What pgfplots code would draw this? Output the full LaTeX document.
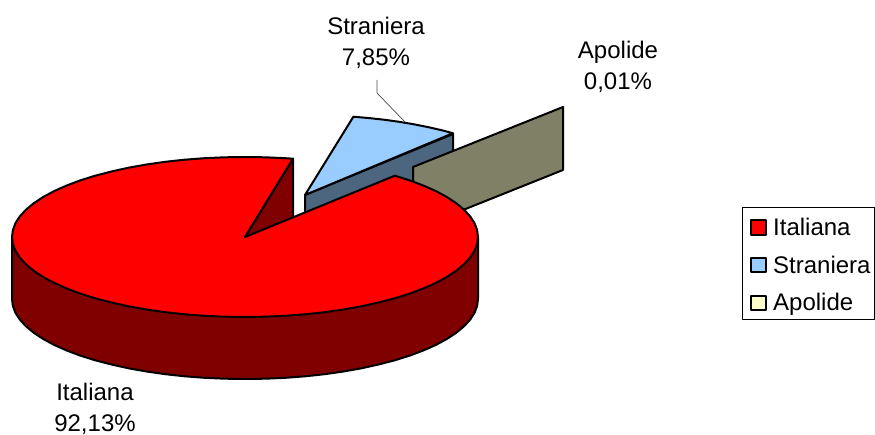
\documentclass[border=0pt]{standalone}
\usepackage{pgfplots}
\pgfplotsset{compat=1.18}
\usepackage{fontspec}
\setmainfont{Liberation Sans}
\definecolor{redtop}{RGB}{255,0,0}
\definecolor{redside}{RGB}{128,0,0}
\definecolor{bluetop}{RGB}{153,204,255}
\definecolor{blueside}{RGB}{77,102,128}
\definecolor{olive}{RGB}{128,128,102}
\definecolor{apolide}{RGB}{255,255,204}
\tikzset{
  lab/.style={font=\fontsize{24}{31}\selectfont, inner sep=0pt},
  lab2/.style={font=\fontsize{24}{31}\selectfont, inner sep=0pt, align=center},
}
\begin{document}
\begin{tikzpicture}
\begin{axis}[
  scale only axis, width=875pt, height=435pt,
  xmin=0, xmax=875, ymin=0, ymax=435, y dir=reverse,
  axis lines=none, clip=false,
  every axis plot/.append style={draw=black, line width=2pt, line join=round, no markers},
]
\path[use as bounding box] (axis cs:0,0) rectangle (axis cs:875,435);
% Straniera: side and top of the exploded slice
\addplot[fill=blueside] coordinates {(305,195) (453,134) (453,196) (305,257)} --cycle;
\addplot[fill=bluetop] coordinates {(305,195) (353.4,116.7) (369.2,118.1) (384.7,119.8) (399.8,121.9) (414.4,124.4) (428.5,127.2) (442,130.3) (453,133.2)} --cycle;
% Apolide: thin slice seen edge on
\addplot[fill=olive] coordinates {(413,167) (563,107) (563,170) (413,230)} --cycle;
% Italiana: inner cut face
\addplot[fill=redside] coordinates {(245,237) (293,158.7) (293,240)} --cycle;
% Italiana: outer wall
\addplot[fill=redside] coordinates {(12,237) (12,299) (12.9,306) (15.5,312.9) (19.9,319.7) (26.1,326.4) (33.8,332.8) (43.2,339) (54.1,344.9) (66.5,350.4) (80.2,355.6) (95.2,360.3) (111.4,364.5) (128.5,368.3) (146.5,371.5) (165.3,374.2) (184.7,376.3) (204.5,377.8) (224.7,378.7) (245,379) (265.3,378.7) (285.5,377.8) (305.3,376.3) (324.7,374.2) (343.5,371.5) (361.5,368.3) (378.6,364.5) (394.8,360.3) (409.8,355.6) (423.5,350.4) (435.9,344.9) (446.8,339) (456.2,332.8) (463.9,326.4) (470.1,319.7) (474.5,312.9) (477.1,306) (478,299) (478,237)} --cycle;
% Italiana: top
\addplot[fill=redtop] coordinates {(245,237) (293,158.7) (285.5,158.2) (265.3,157.3) (245,157) (224.7,157.3) (204.5,158.2) (184.7,159.7) (165.3,161.8) (146.5,164.5) (128.5,167.7) (111.4,171.5) (95.2,175.7) (80.2,180.4) (66.5,185.6) (54.1,191.1) (43.2,197) (33.8,203.2) (26.1,209.6) (19.9,216.3) (15.5,223.1) (12.9,230) (12,237) (12.9,244) (15.5,250.9) (19.9,257.7) (26.1,264.4) (33.8,270.8) (43.2,277) (54.1,282.9) (66.5,288.4) (80.2,293.6) (95.2,298.3) (111.4,302.5) (128.5,306.3) (146.5,309.5) (165.3,312.2) (184.7,314.3) (204.5,315.8) (224.7,316.7) (245,317) (265.3,316.7) (285.5,315.8) (305.3,314.3) (324.7,312.2) (343.5,309.5) (361.5,306.3) (378.6,302.5) (394.8,298.3) (409.8,293.6) (423.5,288.4) (435.9,282.9) (446.8,277) (456.2,270.8) (463.9,264.4) (470.1,257.7) (474.5,250.9) (477.1,244) (478,237) (477.1,230) (474.5,223.1) (470.1,216.3) (463.9,209.6) (456.2,203.2) (446.8,197) (435.9,191.1) (423.5,185.6) (409.8,180.4) (394.8,175.7)} --cycle;
% Leader line
\addplot[draw=black!70, line width=0.7pt] coordinates {(377,80) (377,93) (405,122)};
% Legend
\addplot[draw=black, line width=1pt, fill=white] coordinates {(742,208) (874.5,208) (874.5,320) (742,320)} --cycle;
\addplot[fill=redtop] coordinates {(751,220) (766,220) (766,235) (751,235)} --cycle;
\addplot[fill=bluetop] coordinates {(751,258) (766,258) (766,272) (751,272)} --cycle;
\addplot[fill=apolide] coordinates {(751,296) (766,296) (766,310) (751,310)} --cycle;
\node[lab,anchor=base west] at (axis cs:773,236) {Italiana};
\node[lab,anchor=base west] at (axis cs:773,273.5) {Straniera};
\node[lab,anchor=base west] at (axis cs:773,311) {Apolide};
\node[lab2,anchor=center] at (axis cs:376,43) {Straniera\\7,85\%};
\node[lab2,anchor=center] at (axis cs:618,67) {Apolide\\0,01\%};
\node[lab2,anchor=center] at (axis cs:95,409) {Italiana\\92,13\%};
\end{axis}
\end{tikzpicture}
\end{document}
